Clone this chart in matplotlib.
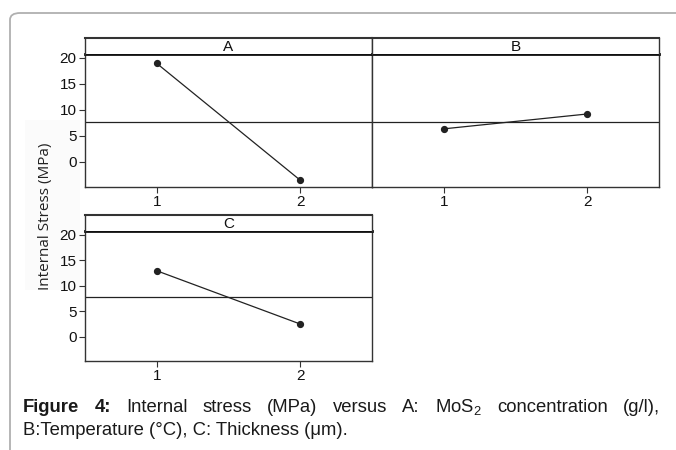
import numpy as np
import matplotlib
matplotlib.use("Agg")
import matplotlib.pyplot as plt
from matplotlib.patches import FancyBboxPatch, Rectangle

plt.rcParams['font.family'] = ['Liberation Sans', 'DejaVu Sans']
plt.rcParams['mathtext.fontset'] = 'custom'
plt.rcParams['mathtext.rm'] = 'Liberation Sans'
plt.rcParams['mathtext.it'] = 'Liberation Sans'

# data
factors = ['A', 'B', 'C']
levels = [1, 2]
mean_A = [18.9, -3.5]
mean_B = [6.35, 9.2]
mean_C = [12.9, 2.45]
grand_mean = 7.7
yticks = [0, 5, 10, 15, 20]
ylabel = 'Internal Stress (MPa)'
caption1 = ['Figure', '4:', 'Internal', 'stress', '(MPa)', 'versus', 'A:',
            'MoS$_2$', 'concentration', '(g/l),']
caption2 = 'B:Temperature (\u00b0C), C: Thickness (\u03bcm).'

W, H = 676, 450
fig = plt.figure(figsize=(W / 100, H / 100), dpi=100)

def fx(px):
    return px / W

def fy(py):
    return 1 - py / H

# outer rounded frame (runs off the right and bottom edges)
frame = FancyBboxPatch((fx(10), fy(470)), fx(700), (470 - 13) / H,
                       boxstyle="round,pad=0,rounding_size=0.015",
                       transform=fig.transFigure, fill=False,
                       edgecolor='#b0b0b0', linewidth=1.3, clip_on=False)
fig.patches.append(frame)

# very faint panel behind y label
fig.patches.append(Rectangle((fx(25), fy(290)), fx(55), 170 / H,
                             transform=fig.transFigure, facecolor='#fbfbfb',
                             edgecolor='none', zorder=-1))

# panel boxes in pixels: left, right, strip top, plot top, bottom
panels = {
    'A': (85, 372, 38, 54, 187),
    'B': (372, 659, 38, 54, 187),
    'C': (85, 372, 215, 231, 361),
}
data = {'A': mean_A, 'B': mean_B, 'C': mean_C}
edge = '#333333'

for f in factors:
    l, r, st, pt, b = panels[f]
    ax = fig.add_axes([fx(l), fy(b), fx(r - l), (b - pt) / H])
    ax.axhline(grand_mean, color='#222222', lw=0.9, zorder=1)
    ax.plot(levels, data[f], color='#222222', lw=0.9, marker='o',
            markersize=4.2, zorder=2)
    ax.set_xlim(0.5, 2.5)
    ax.set_ylim(-4.8, 20.7)
    ax.set_xticks(levels)
    ax.set_xticklabels([str(v) for v in levels])
    ax.set_yticks(yticks)
    ax.tick_params(length=4, width=0.8, color=edge, labelsize=11,
                   labelcolor='#111111', pad=2)
    if f == 'B':
        ax.tick_params(axis='y', left=False, labelleft=False)
    for s in ax.spines.values():
        s.set_color(edge)
        s.set_linewidth(1.0)
    ax.spines['top'].set_linewidth(2.0)
    ax.spines['top'].set_color('#111111')

    sax = fig.add_axes([fx(l), fy(pt), fx(r - l), (pt - st) / H])
    sax.set_xticks([])
    sax.set_yticks([])
    for s in sax.spines.values():
        s.set_color(edge)
        s.set_linewidth(1.0)
    sax.spines['top'].set_linewidth(1.5)
    sax.spines['bottom'].set_visible(False)
    sax.text(0.5, 0.45, f, ha='center', va='center', fontsize=11,
             transform=sax.transAxes, color='#111111')

fig.text(fx(45), fy(216), ylabel, rotation=90, ha='center', va='center',
         fontsize=11, family=['Open Sans', 'DejaVu Sans'], color='#222222')

# caption, first line justified between x=23 and x=660
renderer = fig.canvas.get_renderer()
words = []
for i, w in enumerate(caption1):
    t = fig.text(0, fy(412), w, fontsize=13.3, ha='left', va='baseline',
                 weight='bold' if i < 2 else 'normal', color='#1a1a1a')
    words.append(t)
widths = [t.get_window_extent(renderer).width for t in words]
x0, x1 = 23, 660
gap = (x1 - x0 - sum(widths)) / (len(words) - 1)
x = x0
for t, wd in zip(words, widths):
    t.set_x(fx(x))
    x += wd + gap
fig.text(fx(23), fy(435), caption2, fontsize=13.3, ha='left', va='baseline',
         color='#1a1a1a')

fig.savefig('out.png', dpi=100)
